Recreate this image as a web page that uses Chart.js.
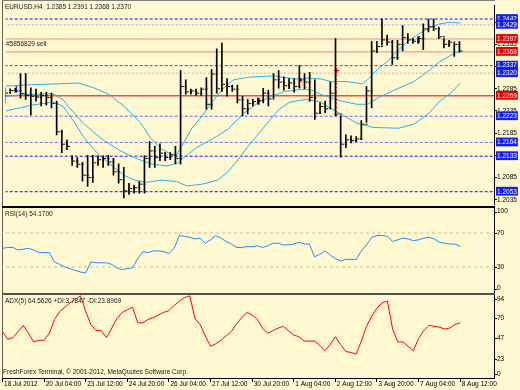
<!DOCTYPE html>
<html><head><meta charset="utf-8">
<script src="https://cdn.jsdelivr.net/npm/chart.js@4.4.1/dist/chart.umd.min.js"></script>
<style>
html,body{margin:0;padding:0;background:#FFF8D0;}
#wrap{position:relative;width:520px;height:390px;overflow:hidden;background:#FFF8D0;font-family:"Liberation Sans",Arial,sans-serif;}
canvas{position:absolute;left:0;}
.txt{position:absolute;font-size:6.5px;line-height:8px;color:#1a1a1a;white-space:pre;}
.ln{position:absolute;}
</style></head><body>
<div id="wrap">
  <div class="ln" style="left:2px;top:0;width:493px;height:1px;background:#808080"></div>
  <div class="ln" style="left:2px;top:0;width:1px;height:378px;background:#606060"></div>
  <div class="ln" style="left:2px;top:206px;width:493px;height:2px;background:#000"></div>
  <div class="ln" style="left:2px;top:293px;width:493px;height:2px;background:#505050"></div>
  <canvas id="cMain" width="520" height="210" style="top:0"></canvas>
  <canvas id="cRsi" width="520" height="100" style="top:200px"></canvas>
  <canvas id="cAdx" width="520" height="110" style="top:280px"></canvas>
  <div class="txt" style="left:5px;top:3px">EURUSD,H4  1.2385 1.2391 1.2368 1.2370</div>
  <div class="txt" style="left:6px;top:40px">#5856829 sell</div>
  <div class="txt" style="left:5px;top:210px">RSI(14) 54.1700</div>
  <div class="txt" style="left:5px;top:297px">ADX(5) 64.5626 +DI:3.7847 -DI:23.8969</div>
  <div class="txt" style="left:3px;top:368px">FreshForex Terminal, © 2001-2012, MetaQuotes Software Corp.</div>
</div>
<script>
// ---------- DATA ----------
const xLabels = ['18 Jul 2012','20 Jul 04:00','23 Jul 12:00','24 Jul 20:00','26 Jul 04:00','27 Jul 12:00','30 Jul 20:00','1 Aug 04:00','2 Aug 12:00','3 Aug 20:00','7 Aug 04:00','8 Aug 12:00'];
const xLabelBars = [0,8,16,24,32,40,48,56,64,72,80,88];

const opens = [1.2280,1.2275,1.2281,1.2280,1.2274,1.2270,1.2268,1.2266,1.2270,1.2265,
1.2252,1.2188,1.2160,1.2128,1.2122,1.2115,1.2090,1.2085,1.2118,1.2125,
1.2128,1.2120,1.2098,1.2080,1.2055,1.2060,1.2062,1.2070,1.2128,1.2145,
1.2130,1.2140,1.2130,1.2136,1.2128,1.2290,1.2278,1.2280,1.2275,1.2284,
1.2250,1.2318,1.2285,1.2295,1.2290,1.2284,1.2260,1.2240,1.2252,1.2256,
1.2258,1.2275,1.2262,1.2305,1.2300,1.2292,1.2298,1.2290,1.2305,1.2300,
1.2265,1.2230,1.2245,1.2240,1.2275,1.2228,1.2160,1.2170,1.2168,1.2172,
1.2205,1.2280,1.2370,1.2380,1.2395,1.2390,1.2355,1.2385,1.2400,1.2395,
1.2392,1.2398,1.2420,1.2425,1.2420,1.2402,1.2385,1.2390,1.2385];
const highs = [1.2287,1.2285,1.2286,1.2319,1.2319,1.2287,1.2284,1.2277,1.2277,1.2275,
1.2257,1.2192,1.2170,1.2134,1.2130,1.2119,1.2135,1.2135,1.2134,1.2134,
1.2135,1.2128,1.2116,1.2108,1.2072,1.2068,1.2076,1.2134,1.2166,1.2155,
1.2161,1.2141,1.2141,1.2155,1.2326,1.2305,1.2284,1.2284,1.2287,1.2310,
1.2328,1.2375,1.2388,1.2308,1.2293,1.2293,1.2268,1.2261,1.2261,1.2264,
1.2286,1.2282,1.2319,1.2326,1.2311,1.2308,1.2308,1.2337,1.2319,1.2322,
1.2305,1.2253,1.2257,1.2300,1.2398,1.2224,1.2181,1.2179,1.2177,1.2213,
1.2290,1.2392,1.2392,1.2442,1.2406,1.2394,1.2394,1.2427,1.2409,1.2398,
1.2402,1.2431,1.2442,1.2442,1.2424,1.2398,1.2394,1.2387,1.2391];
const lows = [1.2254,1.2276,1.2277,1.2264,1.2261,1.2226,1.2257,1.2246,1.2248,1.2242,
1.2181,1.2141,1.2148,1.2112,1.2108,1.2077,1.2065,1.2074,1.2112,1.2108,
1.2112,1.2090,1.2072,1.2039,1.2047,1.2050,1.2050,1.2050,1.2108,1.2108,
1.2123,1.2123,1.2125,1.2116,1.2115,1.2273,1.2273,1.2270,1.2270,1.2239,
1.2239,1.2275,1.2279,1.2268,1.2279,1.2253,1.2224,1.2228,1.2246,1.2250,
1.2253,1.2246,1.2264,1.2286,1.2282,1.2285,1.2277,1.2286,1.2285,1.2257,
1.2216,1.2229,1.2231,1.2240,1.2224,1.2131,1.2152,1.2163,1.2166,1.2170,
1.2209,1.2242,1.2366,1.2383,1.2383,1.2340,1.2351,1.2370,1.2387,1.2387,
1.2387,1.2373,1.2413,1.2416,1.2398,1.2377,1.2380,1.2358,1.2368];
const closes = [1.2275,1.2281,1.2280,1.2274,1.2270,1.2268,1.2266,1.2270,1.2265,1.2252,
1.2188,1.2160,1.2155,1.2122,1.2115,1.2090,1.2085,1.2118,1.2125,1.2128,
1.2120,1.2098,1.2080,1.2055,1.2060,1.2062,1.2070,1.2128,1.2145,1.2130,
1.2140,1.2130,1.2136,1.2128,1.2290,1.2278,1.2280,1.2275,1.2284,1.2250,
1.2318,1.2285,1.2295,1.2290,1.2284,1.2260,1.2240,1.2252,1.2256,1.2258,
1.2275,1.2262,1.2305,1.2300,1.2292,1.2298,1.2290,1.2305,1.2300,1.2265,
1.2230,1.2245,1.2240,1.2275,1.2228,1.2160,1.2170,1.2168,1.2172,1.2205,
1.2280,1.2370,1.2380,1.2395,1.2390,1.2355,1.2385,1.2400,1.2395,1.2392,
1.2398,1.2420,1.2425,1.2420,1.2402,1.2385,1.2390,1.2385,1.2370];

// Bollinger bands: [bar index, price]
const bbUpper = [[0,1.2291],[5,1.2294],[10,1.2296],[14,1.2298],[17,1.2287],[20,1.2272],[23,1.2244],[26,1.2209],[28,1.2174],[30,1.2150],[32,1.2137],[33,1.2135],[34,1.2155],[36,1.2196],[38,1.2224],[40,1.2257],[42,1.2285],[44,1.2305],[47,1.2311],[52,1.2314],[56,1.2307],[58,1.2309],[61,1.2307],[63,1.2301],[66,1.2301],[69,1.2296],[70,1.2305],[72,1.2329],[74,1.2348],[76,1.2372],[78,1.2394],[80,1.2409],[82,1.2422],[84,1.2431],[86,1.2435],[88,1.2433]];
const bbMiddle = [[0,1.2268],[4,1.2272],[9,1.2274],[11,1.2261],[12,1.2246],[15,1.2207],[17,1.2187],[19,1.2168],[22,1.2146],[25,1.2129],[28,1.2116],[31,1.2111],[33,1.2116],[35,1.2135],[37,1.2153],[40,1.2172],[43,1.2194],[46,1.2229],[49,1.2255],[51,1.2266],[54,1.2279],[57,1.2283],[59,1.2283],[61,1.2272],[63,1.2264],[65,1.2257],[68,1.2250],[70,1.2250],[72,1.2264],[75,1.2281],[79,1.2301],[82,1.2327],[84,1.2346],[87,1.2366],[88,1.2368]];
const bbLower = [[0,1.2235],[5,1.2248],[9,1.2255],[11,1.2246],[13,1.2213],[15,1.2177],[17,1.2148],[19,1.2126],[21,1.2107],[23,1.2089],[25,1.2079],[27,1.2074],[30,1.2079],[33,1.2076],[35,1.2066],[38,1.2070],[41,1.2079],[43,1.2098],[45,1.2126],[47,1.2157],[49,1.2185],[51,1.2213],[53,1.2240],[55,1.2255],[58,1.2261],[61,1.2255],[63,1.2240],[65,1.2227],[68,1.2207],[71,1.2198],[76,1.2196],[79,1.2205],[82,1.2231],[84,1.2257],[86,1.2274],[88,1.2298]];

const levelValues = [1.2442,1.2429,1.2397,1.2368,1.2337,1.2320,1.2269,1.2223,1.2164,1.2133,1.2053];
const priceTicks = [1.2435,1.2385,1.2335,1.2285,1.2235,1.2185,1.2135,1.2085,1.2035];

const buyMarks = [[2,1.2284],[49,1.2257],[80,1.2396]];
const sellTrade = [[57,1.2304],[60,1.2264]];
const closeTrade = [[64,1.2326],[64,1.2224]];

const rsi = [52,53,53,50,51,52,50,47,47,47,
36,33,30,28,26,24,23,36,35,35,
35,33,29,27,28,29,40,48,47,49,
49,48,46,52,67,66,65,63,64,58,
62,67,64,60,57,53,53,54,54,55,
53,55,58,58,56,56,57,59,57,57,
42,45,49,44,40,37,39,39,39,49,
56,65,67,67,66,60,62,64,63,61,
62,64,65,63,59,58,57,57,54.17];
const rsiTicks = [100,70,30,0];
const rsiLevels = [70,30];

const adx = [54.5,45.5,47.5,54.5,61.5,52.5,42.5,44.5,44.5,52.5,
68.5,77.5,82.5,87.5,91.5,95.5,77.5,62.5,55.5,55.5,
47.5,58.5,69.5,76.5,79.5,82.5,64.5,64.5,68.5,70.5,
73.5,76.5,78.5,84.5,89.5,93.5,95.5,69.5,62.5,49.5,
37.5,40.5,44.5,49.5,54.5,63.5,70.5,76.5,73.5,68.5,
58.5,52.5,55.5,58.5,60.5,55.5,50.5,48.5,43.5,43.5,
43.5,38.5,32.5,39.5,48.5,39.5,31.5,30.5,28.5,43.5,
60.5,72.5,81.5,87.5,89.5,57.5,42.5,42.5,37.5,32.5,
46.5,55.5,61.5,60.5,59.5,57.5,58.5,62.5,64.56];
const adxTicks = [94,70,47,23,0];

// ---------- STYLES ----------
const FONT = {family:'Liberation Sans', size:6.5};
Chart.defaults.font = FONT;
const levelStyles = [
 {line:'#1010FF',dash:[3,2],box:'#1020F0'},
 {line:'#A8A8D8',dash:[2,2],box:'#1020F0'},
 {line:'#F08878',dash:[],box:'#E80000'},
 {line:'#F08878',dash:[],box:'#E80000'},
 {line:'#4040FF',dash:[3,2],box:'#1020F0'},
 {line:'#B0B0D0',dash:[2,2],box:'#1020F0'},
 {line:'#E00000',dash:[],box:'#E80000'},
 {line:'#6464FF',dash:[3,2],box:'#1020F0'},
 {line:'#7070F0',dash:[3,2],box:'#1020F0'},
 {line:'#1010FF',dash:[3,2],box:'#1020F0'},
 {line:'#1010F0',dash:[3,2],box:'#1020F0'}
];
const X_MIN = -0.1, X_MAX = 94.5, TICK_SHIFT = 0.2;
const BB_COLOR = '#22B4EE';

const fixWidth = w => (s) => { s.width = w; };
const hiddenX = (shift) => ({type:'linear', display:false, offset:false, grid:{offset:false}, min:X_MIN+shift, max:X_MAX+shift});

const panelLabels = {
  id:'panelLabels',
  afterDraw(chart, args, opts) {
    const s = chart.scales.y, ca = chart.chartArea, ctx = chart.ctx;
    ctx.save();
    ctx.font = `${FONT.size}px ${FONT.family}`;
    ctx.fillStyle = '#000'; ctx.textBaseline = 'middle'; ctx.textAlign = 'left';
    ctx.strokeStyle = '#000'; ctx.lineWidth = 1;
    opts.values.forEach(v => {
      let y = s.getPixelForValue(v);
      y = Math.max(ca.top + 4, Math.min(ca.bottom - 4, y));
      ctx.beginPath(); ctx.moveTo(ca.right, Math.round(y)+0.5); ctx.lineTo(ca.right+3, Math.round(y)+0.5); ctx.stroke();
      ctx.fillText(String(v), ca.right + 3, y);
    });
    ctx.restore();
  }
};

const toXY = arr => arr.map(([x,y]) => ({x, y}));
const idx = closes.map((_, i) => i);

// ---------- MAIN PRICE CHART ----------
const mainDatasets = [
  {type:'bar', data: idx.map(i => ({x:i, y:[lows[i], highs[i]]})), backgroundColor:'#000', borderWidth:0, barThickness:1, xAxisID:'x', yAxisID:'y'},
  {type:'line', data: idx.map(i => ({x:i, y:opens[i]})), showLine:false, pointStyle:'line', pointRadius:1.1, pointBorderWidth:1, pointBorderColor:'#000', xAxisID:'xo', yAxisID:'y'},
  {type:'line', data: idx.map(i => ({x:i, y:closes[i]})), showLine:false, pointStyle:'line', pointRadius:1.1, pointBorderWidth:1, pointBorderColor:'#000', xAxisID:'xc', yAxisID:'y'},
  {type:'line', data: toXY(buyMarks), showLine:false, pointStyle:'line', rotation:90, pointRadius:3.5, pointBorderWidth:1.5, pointBorderColor:'#1030FF', xAxisID:'x', yAxisID:'y'},
  {type:'line', data: toXY(sellTrade), borderColor:'#FF2020', borderWidth:1, borderDash:[1,2], pointRadius:[2.5,1.5], pointStyle:['triangle','rect'], pointBackgroundColor:['#FF0000','#F0A030'], pointBorderWidth:0, xAxisID:'x', yAxisID:'y'},
  {type:'line', data: toXY(closeTrade), borderColor:'#FF2020', borderWidth:1, borderDash:[2,2], pointRadius:[2.5,0], pointStyle:'cross', pointBorderColor:'#FF0000', pointBorderWidth:1.2, xAxisID:'x', yAxisID:'y'},
  {type:'line', data: toXY(bbUpper), borderColor:BB_COLOR, borderWidth:1, pointRadius:0, xAxisID:'x', yAxisID:'y'},
  {type:'line', data: toXY(bbMiddle), borderColor:BB_COLOR, borderWidth:1, pointRadius:0, xAxisID:'x', yAxisID:'y'},
  {type:'line', data: toXY(bbLower), borderColor:BB_COLOR, borderWidth:1, pointRadius:0, xAxisID:'x', yAxisID:'y'},
  ...levelValues.map((v, k) => ({type:'line', data:[{x:X_MIN-5, y:v},{x:X_MAX+5, y:v}], borderColor:levelStyles[k].line, borderDash:levelStyles[k].dash, borderWidth:1, pointRadius:0, xAxisID:'x', yAxisID:'y'}))
];
const nReg = priceTicks.length;
new Chart(document.getElementById('cMain'), {
  type:'bar',
  data:{datasets: mainDatasets},
  options:{
    responsive:false, animation:false, events:[],
    layout:{padding:{left:2, top:1, bottom:3, right:0}},
    plugins:{legend:{display:false}, tooltip:{enabled:false}},
    scales:{
      x: hiddenX(0), xo: hiddenX(TICK_SHIFT), xc: hiddenX(-TICK_SHIFT),
      y:{type:'linear', position:'right', min:1.20242, max:1.24725,
        afterBuildTicks: s => { s.ticks = priceTicks.concat(levelValues).map(v => ({value:v})); },
        afterFit: fixWidth(26),
        border:{display:true, color:'#000', width:1},
        grid:{display:true, drawOnChartArea:false, drawTicks:true, tickLength:3,
              color: c => c.index >= nReg ? 'rgba(0,0,0,0)' : '#000'},
        ticks:{autoSkip:false, padding:0, callback: v => v.toFixed(4),
          color: c => c.index >= nReg ? '#fff' : '#000',
          showLabelBackdrop: c => c.index >= nReg,
          backdropColor: c => c.index >= nReg ? levelStyles[c.index - nReg].box : 'rgba(0,0,0,0)',
          backdropPadding:{top:1, bottom:0, left:1, right:1}}
      }
    }
  }
});

// ---------- RSI ----------
new Chart(document.getElementById('cRsi'), {
  type:'line',
  data:{datasets:[
    {data: idx.map(i => ({x:i, y:rsi[i]})), borderColor:'#1E90FF', borderWidth:1, pointRadius:0},
    ...rsiLevels.map(v => ({data:[{x:X_MIN-5,y:v},{x:X_MAX+5,y:v}], borderColor:'#C8BFA0', borderDash:[3,3], borderWidth:1, pointRadius:0}))
  ]},
  options:{
    responsive:false, animation:false, events:[],
    layout:{padding:{left:2, top:7.5, bottom:7.5, right:0}},
    plugins:{legend:{display:false}, tooltip:{enabled:false}, panelLabels:{values:rsiTicks}},
    scales:{
      x: hiddenX(0),
      y:{type:'linear', position:'right', min:0, max:100, afterFit: fixWidth(26),
        border:{display:true, color:'#000', width:1}, grid:{display:false}, ticks:{display:false}}
    }
  },
  plugins:[panelLabels]
});

// ---------- ADX ----------
new Chart(document.getElementById('cAdx'), {
  type:'line',
  data:{datasets:[
    {data: idx.map(i => ({x:i, y:adx[i]})), borderColor:'#FF0000', borderWidth:1, pointRadius:0}
  ]},
  options:{
    responsive:false, animation:false, events:[],
    layout:{padding:{left:2, top:15, bottom:0, right:0}},
    plugins:{legend:{display:false}, tooltip:{enabled:false}, panelLabels:{values:adxTicks}},
    scales:{
      x:{type:'linear', min:X_MIN, max:X_MAX, offset:false,
        afterBuildTicks: s => { s.ticks = xLabelBars.map(v => ({value:v})); },
        afterFit: s => { s.height = 12; },
        border:{display:true, color:'#000', width:1},
        grid:{display:true, offset:false, drawOnChartArea:false, drawTicks:true, tickLength:4, color:'#000'},
        ticks:{autoSkip:false, maxRotation:0, minRotation:0, align:'start', padding:-2, labelOffset:1.5, color:'#000',
          callback: (v, k) => xLabels[k]}
      },
      y:{type:'linear', position:'right', min:1.1, max:96.5, afterFit: fixWidth(26),
        border:{display:true, color:'#000', width:1}, grid:{display:false}, ticks:{display:false}}
    }
  },
  plugins:[panelLabels]
});
</script>
</body></html>
